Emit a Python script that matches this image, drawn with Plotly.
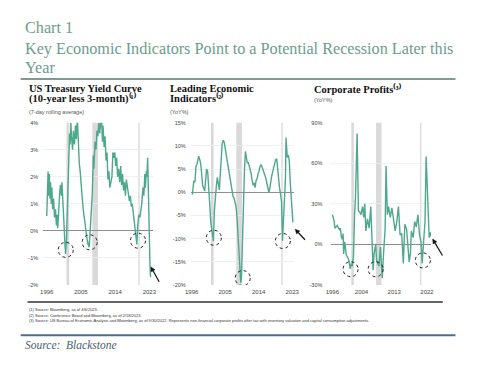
import math
import plotly.graph_objects as go

W, H = 480, 368

# ---------------- data ----------------
yc_years = [1996.0, 1996.15, 1996.35, 1996.5, 1996.7, 1996.85, 1997.0, 1997.2, 1997.35, 1997.55, 1997.8,
            1998.05, 1998.3, 1998.55, 1998.75, 1998.9, 1999.15, 1999.4, 1999.6, 1999.85, 2000.0, 2000.3,
            2000.55, 2000.8, 2000.95, 2001.2, 2001.5, 2001.65, 2001.8, 2002.0, 2002.15, 2002.35, 2002.5,
            2002.8, 2003.0, 2003.3, 2003.55, 2003.8, 2004.05, 2004.3, 2004.55, 2004.8, 2005.1, 2005.35,
            2005.6, 2005.85, 2006.1, 2006.35, 2006.6, 2006.9, 2007.15, 2007.3, 2007.5, 2007.75, 2008.0,
            2008.25, 2008.4, 2008.7, 2008.95, 2009.2, 2009.45, 2009.7, 2009.95, 2010.2, 2010.4, 2010.65,
            2010.8, 2011.1, 2011.35, 2011.6, 2011.85, 2012.1, 2012.35, 2012.6, 2012.9, 2013.15, 2013.4,
            2013.65, 2013.9, 2014.15, 2014.4, 2014.65, 2014.9, 2015.2, 2015.45, 2015.7, 2015.95, 2016.2,
            2016.45, 2016.7, 2016.95, 2017.2, 2017.45, 2017.75, 2018.0, 2018.25, 2018.5, 2018.75, 2019.0,
            2019.3, 2019.55, 2019.7, 2019.95, 2020.2, 2020.5, 2020.75, 2021.0, 2021.3, 2021.55, 2021.8,
            2021.95, 2022.2, 2022.35, 2022.55, 2022.7, 2022.85, 2023.0, 2023.15, 2023.3]
yc_values = [0.55, 1.76, 2.2, 1.3, 2.1, 1.2, 1.8, 1.0, 1.6, 0.8, 1.2,
             0.5, 0.8, 0.2, 0.6, 0.1, 1.0, 1.4, 1.7, 1.3, 1.8, 0.5,
             0.2, -0.5, -0.85, -0.3, 1.2, 2.0, 2.4, 3.6, 3.2, 4.0, 3.5,
             3.0, 3.7, 3.2, 3.9, 3.4, 4.2, 3.2, 2.5, 2.2, 1.5, 1.2,
             0.8, 0.5, 0.2, 0.0, -0.3, -0.5, -0.6, -0.3, 0.3, 0.9, 1.4,
             2.8, 2.3, 3.3, 3.0, 3.7, 3.5, 4.0, 3.6, 4.1, 4.2, 3.3,
             3.9, 3.1, 3.5, 2.6, 2.9, 1.9, 2.2, 1.6, 1.8, 2.0, 2.9,
             2.7, 2.9, 2.4, 2.7, 2.0, 2.3, 1.8, 2.4, 1.7, 2.1, 1.5,
             1.8, 1.3, 1.9, 1.6, 1.3, 1.1, 1.3, 0.9, 1.0, 0.6, 0.3,
             0.0, -0.3, -0.5, 0.2, 0.6, 0.5, 0.7, 1.0, 1.6, 1.3, 2.1,
             1.6, 2.2, 2.0, 2.7, 1.4, 0.2, -0.6, -1.2, -1.7]

lei_years = [1996.2, 1996.35, 1996.6, 1996.9, 1997.15, 1997.4, 1997.65, 1997.9, 1998.2, 1998.45, 1998.7,
             1998.95, 1999.25, 1999.5, 1999.75, 2000.0, 2000.3, 2000.45, 2000.65, 2000.9, 2001.15, 2001.4,
             2001.7, 2001.85, 2002.1, 2002.4, 2002.65, 2002.9, 2003.15, 2003.45, 2003.7, 2003.95, 2004.2,
             2004.5, 2004.75, 2005.0, 2005.3, 2005.55, 2005.8, 2006.05, 2006.3, 2006.6, 2006.85, 2007.1,
             2007.35, 2007.65, 2007.9, 2008.15, 2008.4, 2008.7, 2008.95, 2009.2, 2009.4, 2009.65, 2009.9,
             2010.2, 2010.45, 2010.7, 2010.95, 2011.2, 2011.5, 2011.75, 2012.0, 2012.25, 2012.55, 2012.8,
             2013.05, 2013.3, 2013.6, 2013.85, 2014.1, 2014.35, 2014.65, 2014.9, 2015.15, 2015.4, 2015.7,
             2015.95, 2016.2, 2016.45, 2016.75, 2017.0, 2017.25, 2017.5, 2017.8, 2018.05, 2018.3, 2018.55,
             2018.85, 2019.1, 2019.35, 2019.6, 2019.9, 2020.15, 2020.4, 2020.65, 2020.95, 2021.2, 2021.35,
             2021.55, 2021.7, 2022.0, 2022.25, 2022.5, 2022.75, 2022.95, 2023.2]
lei_values = [-0.5, 1.5, 2.5, 2.2, 5.5, 6.0, 7.0, 7.8, 7.0, 6.0, 4.0,
              1.5, 0.8, 0.3, 2.5, 5.0, 4.5, 3.0, 0.5, -3.0, -6.5, -8.0,
              -9.0, -10.5, -4.0, 0.0, 1.5, 3.2, 2.0, 0.5, 4.0, 8.0, 10.5,
              11.2, 10.8, 9.5, 8.0, 6.5, 5.5, 4.0, 3.0, 1.5, 0.0, -0.8,
              -1.2, -2.0, -3.0, -5.0, -8.0, -12.0, -16.0, -19.5, -18.0, -10.0, -2.0,
              5.0, 8.8, 7.5, 6.3, 6.5, 5.5, 5.0, 4.0, 2.5, 1.5, 2.0,
              1.0, 2.5, 3.0, 4.0, 4.5, 5.5, 6.0, 5.5, 5.0, 4.5, 3.5,
              3.0, 2.0, 1.0, 0.0, 0.8, 2.5, 3.5, 4.5, 5.5, 6.5, 7.0,
              7.2, 5.0, 2.5, 1.0, -0.5, -2.0, -10.5, -7.0, -3.0, 3.0, 11.8,
              9.0, 7.5, 8.0, 6.5, 2.0, -2.0, -4.5, -6.5]

cp_years = [1996.0, 1996.45, 1996.7, 1997.35, 1997.9, 1998.2, 1998.5, 1998.75, 1998.95, 1999.1, 1999.4,
            1999.85, 2000.3, 2000.55, 2000.9, 2001.2, 2001.45, 2001.8, 2002.1, 2002.35, 2002.8, 2003.15,
            2003.5, 2003.85, 2004.3, 2004.6, 2004.9, 2005.2, 2005.65, 2006.1, 2006.55, 2007.0, 2007.2,
            2007.45, 2007.9, 2008.15, 2008.8, 2009.2, 2009.7, 2010.1, 2010.5, 2010.75, 2011.1, 2011.45,
            2011.9, 2012.35, 2012.8, 2013.25, 2013.7, 2014.15, 2014.6, 2015.05, 2015.5, 2015.9, 2016.4,
            2016.8, 2017.1, 2017.45, 2017.7, 2018.2, 2018.6, 2019.05, 2019.5, 2019.95, 2020.4, 2020.65,
            2021.1, 2021.45, 2021.75, 2022.2, 2022.45, 2022.6, 2022.9, 2023.05]
cp_values = [22, 18, 12, 14, 11, 12, 5, 4, 8, -7, 2,
             -8, -10, -12, -18, -14, -16, -9, 22, 35, 82, 25,
             24, 22, 28, 20, 30, 10, 19, 12, 28, 0, -19,
             -7, 0, -12, -16, -2, -25, -5, 12, 58, 22, 28,
             20, 27, 19, 10, 17, 28, 7, 8, -14, 15, 11,
             0, -13, -6, 10, 5, 17, 13, 22, 7, 1, -14,
             2, 17, 65, 34, 7, 5, 9, 6]

recessions = [(2001.2, 2001.9), (2008.0, 2009.5), (2020.1, 2020.45)]

yc_ticks = [-2, -1, 0, 1, 2, 3, 4]
lei_ticks = [-20, -15, -10, -5, 0, 5, 10, 15]
cp_ticks = [-30, 0, 30, 60, 90]
x_ticks_ab = [1996, 2005, 2014, 2023]
x_ticks_c = [1996, 2004, 2013, 2022]

# circled troughs (year, value) per panel
yc_circles = [(2001.0, -0.70), (2007.3, -0.42), (2020.0, -0.36)]
lei_circles = [(2001.96, -9.8), (2009.73, -18.5), (2020.5, -10.5)]
cp_circles = [(2001.0, -18.3), (2007.9, -18.3), (2020.85, -11.8)]

# ---------------- styling / layout helpers ----------------
LINE = "#4ea88c"
GRID = "#ececec"
TXT = "#444444"
TITLE_C = "#6e9c8e"


def fx(p):
    return p / W


def fy(p):
    return 1 - p / H


fig = go.Figure()

panels = [
    dict(x=yc_years, y=yc_values, xa="x", ya="y", xdom=(38, 150), xr=(1995.05, 2023.84),
         yr=(-2, 4), yt=yc_ticks, xt=x_ticks_ab, circles=yc_circles),
    dict(x=lei_years, y=lei_values, xa="x2", ya="y2", xdom=(189, 295), xr=(1995.74, 2023.56),
         yr=(-20, 15), yt=lei_ticks, xt=x_ticks_ab, circles=lei_circles),
    dict(x=cp_years, y=cp_values, xa="x3", ya="y3", xdom=(333, 435), xr=(1995.73, 2023.1),
         yr=(-30, 90), yt=cp_ticks, xt=x_ticks_c, circles=cp_circles),
]

ydom = [fy(286.7), fy(121.7)]
layout_axes = {}
shapes = []
for i, p in enumerate(panels):
    fig.add_trace(go.Scatter(x=p["x"], y=p["y"], mode="lines", xaxis=p["xa"], yaxis=p["ya"],
                             line=dict(color=LINE, width=1.4), showlegend=False, hoverinfo="skip"))
    sfx = "" if i == 0 else str(i + 1)
    layout_axes["xaxis" + sfx] = dict(
        domain=[fx(p["xdom"][0]), fx(p["xdom"][1])], range=list(p["xr"]), anchor=p["ya"],
        tickvals=p["xt"], ticktext=[str(t) for t in p["xt"]], showgrid=False, zeroline=False,
        showline=False, ticks="", ticklabelstandoff=2, fixedrange=True,
        tickfont=dict(family="Liberation Sans", size=6, color=TXT))
    layout_axes["yaxis" + sfx] = dict(
        domain=ydom, range=list(p["yr"]), anchor=p["xa"], tickvals=p["yt"],
        ticktext=[f"{t}%" for t in p["yt"]], showgrid=True, gridcolor=GRID, gridwidth=0.8,
        zeroline=True, zerolinecolor="#8f8f8f", zerolinewidth=1, showline=False, ticks="",
        ticklabelstandoff=4 if i < 2 else 8, fixedrange=True,
        tickfont=dict(family="Liberation Sans", size=5.5, color=TXT))
    for (a, b) in recessions:
        shapes.append(dict(type="rect", xref=p["xa"], yref=p["ya"] + " domain", x0=a, x1=b, y0=0, y1=1,
                           fillcolor="#d9d9d9", line=dict(width=0), layer="below"))
    for (cx, cy) in p["circles"]:
        shapes.append(dict(type="circle", xref=p["xa"], yref=p["ya"], xsizemode="pixel",
                           ysizemode="pixel", xanchor=cx, yanchor=cy, x0=-7.5, x1=7.5, y0=-7.5, y1=7.5,
                           line=dict(color="#222222", width=1, dash="dot")))

# rules
shapes.append(dict(type="line", xref="paper", yref="paper", x0=fx(15), x1=fx(460), y0=fy(77.3), y1=fy(77.3),
                   line=dict(color="#55796d", width=1.5)))
shapes.append(dict(type="line", xref="paper", yref="paper", x0=fx(22), x1=fx(447), y0=fy(304), y1=fy(304),
                   line=dict(color="#333333", width=1.5)))
shapes.append(dict(type="line", xref="paper", yref="paper", x0=fx(15), x1=fx(460), y0=fy(337.7), y1=fy(337.7),
                   line=dict(color="#4d6b8c", width=2)))

# arrows pointing at the latest readings: (head x, head y, tail x, tail y) in pixels
arrows = [(148.3, 268.3, 156.7, 283.3), (296, 230, 306, 240.7), (436.7, 240, 446.7, 256.7)]
for (hx, hy, tx, ty) in arrows:
    d = math.hypot(tx - hx, ty - hy)
    ux, uy = (tx - hx) / d, (ty - hy) / d
    L, hw = 4.5, 2.2
    bx, by = hx + ux * L, hy + uy * L
    shapes.append(dict(type="line", xref="paper", yref="paper", x0=fx(bx), y0=fy(by), x1=fx(tx), y1=fy(ty),
                       line=dict(color="#111111", width=1.2)))
    p1 = (bx - uy * hw, by + ux * hw)
    p2 = (bx + uy * hw, by - ux * hw)
    path = (f"M {fx(hx)} {fy(hy)} L {fx(p1[0])} {fy(p1[1])} L {fx(p2[0])} {fy(p2[1])} Z")
    shapes.append(dict(type="path", xref="paper", yref="paper", path=path, fillcolor="#111111",
                       line=dict(color="#111111", width=0.5)))

ann = []


def text(x, y, s, size, color, family, xanchor="left"):
    ann.append(dict(x=fx(x), y=fy(y), xref="paper", yref="paper", text=s, showarrow=False,
                    xanchor=xanchor, yanchor="middle", align="left",
                    font=dict(size=size, color=color, family=family)))


SERIF = "Liberation Serif"
text(17, 25, "Chart 1", 16.2, TITLE_C, SERIF)
text(17, 47, "Key Economic Indicators Point to a Potential Recession Later this", 16.2, TITLE_C, SERIF)
text(17, 66, "Year", 16.2, TITLE_C, SERIF)

text(22, 87, "<b>US Treasury Yield Curve</b>", 10.5, "#111111", SERIF)
text(22, 97, "<b>(10-year less 3-month)⁽¹⁾</b>", 10.5, "#111111", SERIF)
text(22, 110.5, "(7-day rolling average)", 5.5, "#555555", "Liberation Sans")

text(166, 87, "<b>Leading Economic</b>", 10.5, "#111111", SERIF)
text(166, 97, "<b>Indicators⁽²⁾</b>", 10.5, "#111111", SERIF)
text(166, 110.5, "(YoY%)", 5.5, "#555555", "Liberation Sans")

text(313, 87, "<b>Corporate Profits⁽³⁾</b>", 10.5, "#111111", SERIF)
text(313, 98.5, "(YoY%)", 5.5, "#555555", "Liberation Sans")

FOOT = "Liberation Sans"
text(22, 312, "(1) Source: Bloomberg, as of 4/6/2023.", 4, "#333333", FOOT)
text(22, 317.5, "(2) Source: Conference Board and Bloomberg, as of 2/18/2023.", 4, "#333333", FOOT)
text(22, 323, "(3) Source: US Bureau of Economic Analysis and Bloomberg, as of 9/30/2022. Represents non-financial "
              "corporate profits after tax with inventory valuation and capital consumption adjustments.",
     4, "#333333", FOOT)

text(17, 348, "<i>Source:  Blackstone</i>", 11.5, "#4a5e70", SERIF)

fig.update_layout(width=W, height=H, margin=dict(l=0, r=0, t=0, b=0), paper_bgcolor="white",
                  plot_bgcolor="white", shapes=shapes, annotations=ann, showlegend=False,
                  hovermode=False, **layout_axes)

fig.write_html("out.html", config={"displayModeBar": False, "staticPlot": True},
               post_script="document.body.style.margin='0px';document.body.style.overflow='hidden';")
